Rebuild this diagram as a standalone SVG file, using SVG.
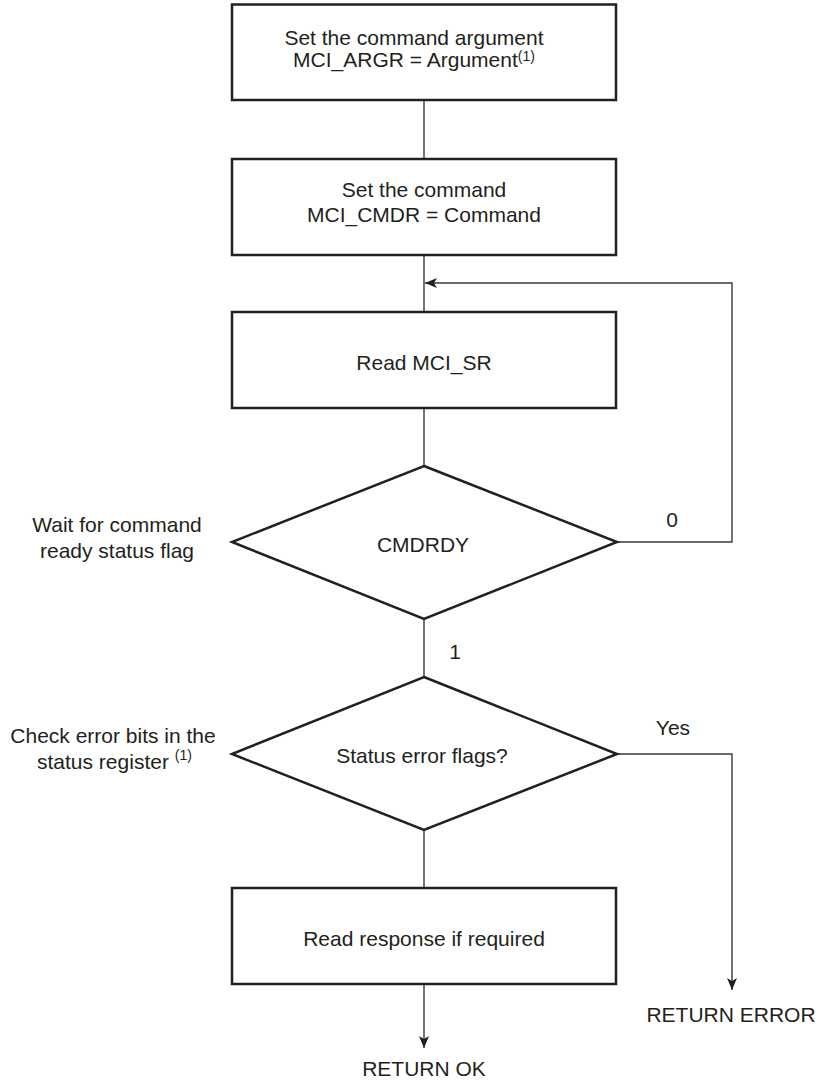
<svg xmlns="http://www.w3.org/2000/svg" width="824" height="1084" viewBox="0 0 824 1084">
  <style>
    .shape { fill: #ffffff; stroke: #231f20; stroke-width: 2.5; }
    .conn { fill: none; stroke: #3a3a3a; stroke-width: 1.4; }
    text { font-family: "Liberation Sans", Arial, sans-serif; font-size: 21px; fill: #231f20; }
    .mid { text-anchor: middle; }
    .sup { font-size: 14px; }
  </style>
  <defs>
    <marker id="arrow" viewBox="0 0 12 10" refX="12" refY="5" markerWidth="12" markerHeight="10" markerUnits="userSpaceOnUse" orient="auto">
      <path d="M0,0 L12,5 L0,10 L3,5 Z" fill="#231f20"/>
    </marker>
  </defs>
  <rect width="824" height="1084" fill="#ffffff"/>

  <g id="connectors">
    <line class="conn" x1="424" y1="100" x2="424" y2="159"/>
    <line class="conn" x1="424" y1="255" x2="424" y2="312"/>
    <polyline class="conn" points="617,542 732,542 732,283 425,283" marker-end="url(#arrow)"/>
    <line class="conn" x1="424" y1="408" x2="424" y2="466"/>
    <line class="conn" x1="424" y1="619" x2="424" y2="677"/>
    <polyline class="conn" points="617,754 732,754 732,990" marker-end="url(#arrow)"/>
    <line class="conn" x1="424" y1="830" x2="424" y2="888"/>
    <line class="conn" x1="424" y1="984" x2="424" y2="1048" marker-end="url(#arrow)"/>
    <text x="672" y="527" class="mid">0</text>
    <text x="455" y="659" class="mid">1</text>
    <text x="673" y="735" class="mid">Yes</text>
  </g>

  <g id="node-set-argument">
    <rect class="shape" x="232" y="4.5" width="384" height="95.5"/>
    <text x="414" y="45" class="mid">Set the command argument</text>
    <text x="414" y="67" class="mid">MCI_ARGR = Argument<tspan class="sup" dy="-6">(1)</tspan></text>
  </g>

  <g id="node-set-command">
    <rect class="shape" x="232" y="159" width="384" height="96"/>
    <text x="424" y="197" class="mid">Set the command</text>
    <text x="424" y="222" class="mid">MCI_CMDR = Command</text>
  </g>

  <g id="node-read-sr">
    <rect class="shape" x="232" y="312" width="384" height="96"/>
    <text x="424" y="370" class="mid">Read MCI_SR</text>
  </g>

  <g id="node-cmdrdy">
    <polygon class="shape" points="424,466 617,542 424,619 232,542"/>
    <text x="423" y="552" class="mid">CMDRDY</text>
  </g>

  <g id="note-wait">
    <text x="117" y="532" class="mid">Wait for command</text>
    <text x="117" y="558" class="mid">ready status flag</text>
  </g>

  <g id="node-status-error">
    <polygon class="shape" points="424,677 617,754 424,830 232,754"/>
    <text x="422" y="763" class="mid">Status error flags?</text>
  </g>

  <g id="note-check">
    <text x="113" y="743" class="mid">Check error bits in the</text>
    <text x="37" y="769">status register <tspan class="sup" dy="-9">(1)</tspan></text>
  </g>

  <g id="node-read-response">
    <rect class="shape" x="232" y="888" width="384" height="96"/>
    <text x="424" y="946" class="mid">Read response if required</text>
  </g>

  <g id="end-ok">
    <text x="424" y="1076" class="mid">RETURN OK</text>
  </g>

  <g id="end-error">
    <text x="731" y="1022" class="mid">RETURN ERROR</text>
  </g>
</svg>
